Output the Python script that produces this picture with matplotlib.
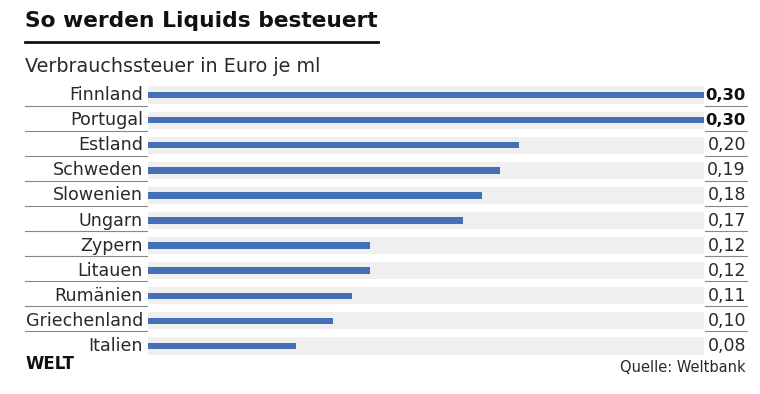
import matplotlib.pyplot as plt
from matplotlib.transforms import blended_transform_factory

countries = ['Finnland', 'Portugal', 'Estland', 'Schweden', 'Slowenien', 'Ungarn',
             'Zypern', 'Litauen', 'Rumänien', 'Griechenland', 'Italien']
tax = [0.30, 0.30, 0.20, 0.19, 0.18, 0.17, 0.12, 0.12, 0.11, 0.10, 0.08]
tax_labels = ['0,30', '0,30', '0,20', '0,19', '0,18', '0,17', '0,12', '0,12', '0,11', '0,10', '0,08']

plt.rcParams['font.family'] = ['DejaVu Sans']

W, H = 760, 394
fig = plt.figure(figsize=(W / 100, H / 100), dpi=100)
fig.patch.set_facecolor('white')

# bar area: x 148..704 px, rows centred from y=95 to y=346
pitch = (346 - 95) / 10
top = 95 - pitch / 2
bottom = 346 + pitch / 2
ax = fig.add_axes([148 / W, 1 - bottom / H, (704 - 148) / W, (bottom - top) / H])
ax.set_xlim(0, 0.30)
ax.set_ylim(len(countries) - 0.5, -0.5)
ax.axis('off')

y = list(range(len(countries)))
ax.barh(y, [0.30] * len(y), height=0.68, color='#efefef', zorder=1)
ax.barh(y, tax, height=0.26, color='#4470b8', zorder=2)

mix = blended_transform_factory(fig.transFigure, ax.transData)
for i, (c, lab) in enumerate(zip(countries, tax_labels)):
    ax.text(143 / W, i, c, transform=mix, ha='right', va='center',
            fontsize=12.6, color='#2a2a2a')
    bold = tax[i] == max(tax)
    ax.text(746 / W, i, lab, transform=mix, ha='right', va='center',
            fontsize=11.8 if bold else 12.5, color='#111111' if bold else '#2a2a2a',
            fontweight='bold' if bold else 'normal')
    if i < len(countries) - 1:
        yy = i + 0.42
        ax.plot([25 / W, 147 / W], [yy, yy], transform=mix, color='#888888',
                lw=0.8, clip_on=False)
        ax.plot([705 / W, 747 / W], [yy, yy], transform=mix, color='#888888',
                lw=0.8, clip_on=False)

fig.text(25 / W, 1 - 21 / H, 'So werden Liquids besteuert', fontsize=15.7,
         fontweight='bold', va='center', ha='left', color='#111111')
fig.add_artist(plt.Line2D([25 / W, 378 / W], [1 - 42 / H, 1 - 42 / H],
                          color='#111111', lw=2))
fig.text(25 / W, 1 - 66 / H, 'Verbrauchssteuer in Euro je ml', fontsize=13.8,
         va='center', ha='left', color='#2a2a2a')
fig.text(25 / W, 1 - 364 / H, 'WELT', fontsize=12, fontweight='heavy',
         va='center', ha='left', color='#111111')
fig.text(746 / W, 1 - 368 / H, 'Quelle: Weltbank', fontsize=10.5,
         va='center', ha='right', color='#2a2a2a')

fig.savefig('out.png', dpi=100)
